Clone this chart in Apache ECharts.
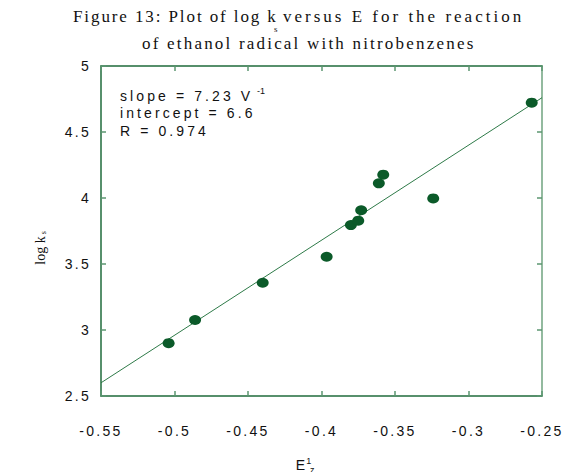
<!DOCTYPE html>
<html><head><meta charset="utf-8">
<script src="https://cdn.jsdelivr.net/npm/echarts@6/dist/echarts.min.js"></script>
<style>
html,body{margin:0;padding:0;background:#fff;}
#c{width:571px;height:472px;}
text[style*="LSA"]{letter-spacing:2.3px;}
text[style*="LSB"]{letter-spacing:2.2px;}
text[style*="LSE"]{letter-spacing:1.9px;}
text[style*="LSD"]{letter-spacing:3.0px;}
text[style*="LSC"]{letter-spacing:3.1px;}
</style></head><body><div id="c"></div>
<script>
const xValues = [-0.504, -0.486, -0.440, -0.3965, -0.380, -0.375, -0.373, -0.361, -0.358, -0.324, -0.257];
const yValues = [2.90, 3.076, 3.358, 3.555, 3.795, 3.828, 3.907, 4.111, 4.177, 3.997, 4.722];
const fitX = [-0.55, -0.25];
const fitY = [2.60, 4.76];
const xTickValues = [-0.55, -0.5, -0.45, -0.4, -0.35, -0.3, -0.25];
const xTickLabels = ['-0.55', '-0.5', '-0.45', '-0.4', '-0.35', '-0.3', '-0.25'];
const yTickValues = [2.5, 3, 3.5, 4, 4.5, 5];
const yTickLabels = ['2.5', '3', '3.5', '4', '4.5', '5'];
const titleLine1a = 'Figure 13: Plot of log k';
const titleLine1sub = 's';
const titleLine1b = 'versus E for the reaction';
const titleLine2 = 'of ethanol radical with nitrobenzenes';
const annotation = ['slope = 7.23 V', 'intercept = 6.6', 'R = 0.974'];

function lookup(vals, labels) {
  return function (v) {
    const i = vals.findIndex(t => Math.abs(t - v) < 1e-9);
    return i >= 0 ? labels[i] : '';
  };
}
const SANS = 'Liberation Sans, LSA';
const SERIF = 'Liberation Serif, LSB';
const axisDark = '#1f6b3b';
const tickCol = '#5b9670';

const chart = echarts.init(document.getElementById('c'), null, {renderer: 'svg'});
chart.setOption({
  animation: false,
  backgroundColor: '#fff',
  grid: {left: 101, right: 29, top: 66, bottom: 76, containLabel: false, outerBoundsMode: 'none'},
  xAxis: [{
    type: 'value', position: 'bottom', min: -0.55, max: -0.25, interval: 0.05,
    axisLine: {onZero: false, lineStyle: {color: axisDark, width: 1.5}},
    axisTick: {inside: true, length: 5, lineStyle: {color: tickCol, width: 1.5}},
    axisLabel: {margin: 28, fontSize: 14, fontFamily: SANS, color: '#111', formatter: lookup(xTickValues, xTickLabels)},
    splitLine: {show: false},
    name: 'E{sup|1}', nameLocation: 'middle', nameGap: 60,
    nameTextStyle: {fontSize: 14, fontFamily: 'Liberation Sans', color: '#111', padding: [0, 36, 0, 0],
      rich: {sup: {fontSize: 9, verticalAlign: 'top', padding: [0, 0, 8, 1], fontFamily: 'Liberation Sans', color: '#111'}}}
  }, {
    type: 'value', position: 'top', min: -0.55, max: -0.25, interval: 0.05,
    axisLine: {onZero: false, lineStyle: {color: axisDark, width: 1.5}},
    axisTick: {inside: true, length: 5, lineStyle: {color: tickCol, width: 1.5}},
    axisLabel: {show: false}, splitLine: {show: false}
  }],
  yAxis: [{
    type: 'value', position: 'left', min: 2.5, max: 5, interval: 0.5,
    axisLine: {onZero: false, lineStyle: {color: axisDark, width: 1.5}},
    axisTick: {inside: true, length: 5, lineStyle: {color: tickCol, width: 1.5}},
    axisLabel: {margin: 10, fontSize: 14, fontFamily: SANS, color: '#111', formatter: lookup(yTickValues, yTickLabels)},
    splitLine: {show: false},
    name: 'log k{s|s}', nameLocation: 'middle', nameGap: 54, nameRotate: 90,
    nameTextStyle: {fontSize: 14, fontFamily: 'Liberation Serif', color: '#111', padding: [0, 34, 0, 0],
      rich: {s: {fontSize: 8, verticalAlign: 'bottom', padding: [6, 0, 0, 2], fontFamily: 'Liberation Serif', color: '#111'}}}
  }, {
    type: 'value', position: 'right', min: 2.5, max: 5, interval: 0.5,
    axisLine: {onZero: false, lineStyle: {color: '#6fa37f', width: 1.5}},
    axisTick: {inside: true, length: 5, lineStyle: {color: tickCol, width: 1.5}},
    axisLabel: {show: false}, splitLine: {show: false}
  }],
  series: [{
    type: 'line', xAxisIndex: 0, yAxisIndex: 0,
    data: fitX.map((x, i) => [x, fitY[i]]),
    showSymbol: false, lineStyle: {color: '#2e7a48', width: 1}, z: 1
  }, {
    type: 'scatter', xAxisIndex: 0, yAxisIndex: 0,
    data: xValues.map((x, i) => [x, yValues[i]]),
    symbol: 'circle', symbolSize: [12, 10],
    itemStyle: {color: '#0b5a29', opacity: 1}, z: 3
  }],
  graphic: [
    {type: 'text', left: 73, top: 8, style: {text: titleLine1a, font: '17px Liberation Serif, LSE', fill: '#111'}},
    {type: 'text', left: 274, top: 24, style: {text: titleLine1sub, font: '9px Liberation Serif', fill: '#111'}},
    {type: 'text', left: 283, top: 8, style: {text: titleLine1b, font: '17px Liberation Serif, LSD', fill: '#111'}},
    {type: 'text', left: 142, top: 35, style: {text: titleLine2, font: '17px ' + SERIF, fill: '#111'}},
    {type: 'text', left: 120, top: 87, style: {text: annotation.join('\n'), font: '14px Liberation Sans, LSC', lineHeight: 17.5, fill: '#111'}},
    {type: 'text', left: 257, top: 86, style: {text: '-1', font: '9px Liberation Sans', fill: '#111'}},
    {type: 'text', left: 310, top: 465, style: {text: 'z', font: '9px Liberation Sans', fill: '#111'}}
  ]
});
</script></body></html>
